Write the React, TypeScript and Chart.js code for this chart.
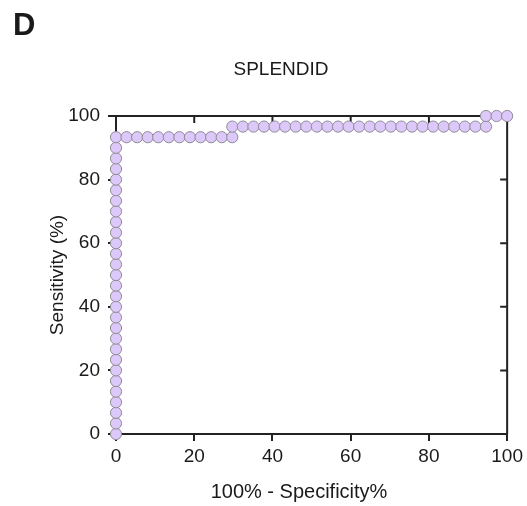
import React, { useEffect, useRef } from "react";
import { Chart, registerables } from "chart.js";

Chart.register(...registerables);

const panelLabel = "D";
const chartTitle = "SPLENDID";
const xAxisTitle = "100% - Specificity%";
const yAxisTitle = "Sensitivity (%)";
const tickStep = 20;

// 100% - Specificity% (x)
const oneMinusSpecificity = [
  0, 0, 0, 0, 0, 0, 0, 0, 0, 0, 0, 0, 0, 0, 0, 0, 0, 0, 0, 0, 0, 0, 0, 0, 0, 0, 0, 0, 0,
  2.7, 5.41, 8.11, 10.81, 13.51, 16.22, 18.92, 21.62, 24.32, 27.03, 29.73,
  29.73, 32.43, 35.14, 37.84, 40.54, 43.24, 45.95, 48.65, 51.35, 54.05, 56.76, 59.46, 62.16,
  64.86, 67.57, 70.27, 72.97, 75.68, 78.38, 81.08, 83.78, 86.49, 89.19, 91.89, 94.59,
  94.59, 97.3, 100,
];

// Sensitivity % (y)
const sensitivity = [
  0, 3.33, 6.67, 10, 13.33, 16.67, 20, 23.33, 26.67, 30, 33.33, 36.67, 40, 43.33, 46.67,
  50, 53.33, 56.67, 60, 63.33, 66.67, 70, 73.33, 76.67, 80, 83.33, 86.67, 90, 93.33,
  93.33, 93.33, 93.33, 93.33, 93.33, 93.33, 93.33, 93.33, 93.33, 93.33, 93.33,
  96.67, 96.67, 96.67, 96.67, 96.67, 96.67, 96.67, 96.67, 96.67, 96.67, 96.67, 96.67, 96.67,
  96.67, 96.67, 96.67, 96.67, 96.67, 96.67, 96.67, 96.67, 96.67, 96.67, 96.67, 96.67,
  100, 100, 100,
];

const FONT = "'Liberation Sans', Arial, sans-serif";
const AXIS = "#222222";

const framePlugin = {
  id: "frame",
  beforeDatasetsDraw(chart: any) {
    const { ctx, chartArea, scales } = chart;
    const { left, right, top, bottom } = chartArea;
    ctx.save();
    ctx.strokeStyle = AXIS;
    ctx.lineWidth = 2;
    ctx.beginPath();
    ctx.moveTo(left - 1, top);
    ctx.lineTo(right + 1, top);
    ctx.moveTo(right, top);
    ctx.lineTo(right, bottom);
    scales.x.ticks.forEach((t: any) => {
      const px = scales.x.getPixelForValue(t.value);
      ctx.moveTo(px, top);
      ctx.lineTo(px, top + 7);
    });
    scales.y.ticks.forEach((t: any) => {
      const py = scales.y.getPixelForValue(t.value);
      ctx.moveTo(right, py);
      ctx.lineTo(right - 7, py);
    });
    ctx.stroke();
    ctx.restore();
  },
  afterDraw(chart: any) {
    const { ctx, chartArea } = chart;
    ctx.save();
    ctx.fillStyle = "#1a1a1a";
    ctx.textBaseline = "middle";
    ctx.textAlign = "left";
    ctx.font = `bold 31px ${FONT}`;
    ctx.fillText(panelLabel, 13, 26);
    ctx.textAlign = "center";
    ctx.font = `19px ${FONT}`;
    ctx.fillText(chartTitle, chartArea.left + 165, 70);
    ctx.font = `20px ${FONT}`;
    ctx.fillText(xAxisTitle, chartArea.left + 183, 492);
    ctx.restore();
  },
};

export default function App() {
  const ref = useRef<HTMLCanvasElement>(null);
  useEffect(() => {
    if (!ref.current) return;
    const points = oneMinusSpecificity.map((x, i) => ({ x, y: sensitivity[i] }));
    const chart = new Chart(ref.current, {
      type: "scatter",
      data: {
        datasets: [
          {
            data: points,
            backgroundColor: "#ddc8fa",
            borderColor: "#908a98",
            borderWidth: 1,
            pointRadius: 5.6,
            clip: false as any,
          },
        ],
      },
      plugins: [framePlugin],
      options: {
        animation: false,
        responsive: false,
        layout: { padding: { left: 0, right: 18, top: 116, bottom: 0 } },
        plugins: { legend: { display: false }, tooltip: { enabled: false } },
        scales: {
          x: {
            type: "linear",
            min: 0,
            max: 100,
            afterFit: (s: any) => {
              s.height = 72;
            },
            ticks: { stepSize: tickStep, color: "#1a1a1a", font: { family: FONT, size: 19 }, padding: 4 },
            grid: { drawOnChartArea: false, drawTicks: true, tickLength: 7, color: AXIS, lineWidth: 2 },
            border: { display: true, color: AXIS, width: 2 },
          },
          y: {
            type: "linear",
            min: 0,
            max: 100,
            afterFit: (s: any) => {
              s.width = 116;
            },
            ticks: { stepSize: tickStep, color: "#1a1a1a", font: { family: FONT, size: 19 }, padding: 8 },
            grid: { drawOnChartArea: false, drawTicks: true, tickLength: 8, color: AXIS, lineWidth: 2 },
            border: { display: true, color: AXIS, width: 2 },
            title: {
              display: true,
              text: yAxisTitle,
              color: "#1a1a1a",
              font: { family: FONT, size: 19 },
              padding: { top: 46, bottom: 0 },
            },
          },
        },
      },
    });
    return () => chart.destroy();
  }, []);
  return (
    <div style={{ position: "absolute", left: 0, top: 0, width: 527, height: 506, background: "#fff" }}>
      <canvas ref={ref} width={527} height={506} />
    </div>
  );
}
